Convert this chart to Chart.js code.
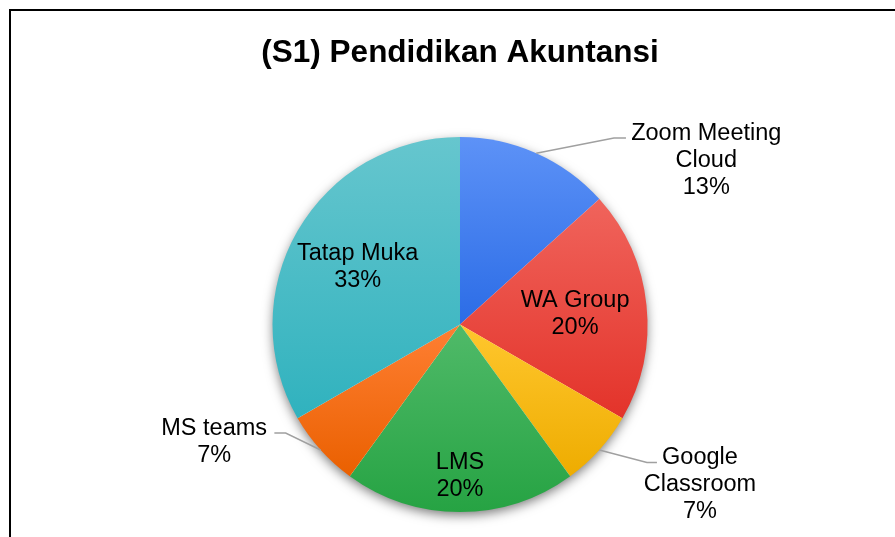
<!DOCTYPE html>
<html>
<head>
<meta charset="utf-8">
<script src="https://cdn.jsdelivr.net/npm/chart.js@4.4.0/dist/chart.umd.min.js"></script>
<style>
  html, body { margin: 0; padding: 0; background: #fff; overflow: hidden; }
  #wrap { position: relative; width: 895px; height: 537px; overflow: hidden; }
  #frame { position: absolute; left: 9px; top: 9px; width: 1000px; height: 1000px; border: 2.5px solid #000; }
  canvas { position: absolute; left: 0; top: 0; }
</style>
</head>
<body>
<div id="wrap">
  <div id="frame"></div>
  <canvas id="chart" width="895" height="537"></canvas>
</div>
<script>
const chartTitle = "(S1) Pendidikan Akuntansi";
const categories = ["Zoom Meeting Cloud", "WA Group", "Google Classroom", "LMS", "MS teams", "Tatap Muka"];
const labelLines = [["Zoom Meeting", "Cloud"], ["WA Group"], ["Google", "Classroom"], ["LMS"], ["MS teams"], ["Tatap Muka"]];
const counts = [2, 3, 1, 3, 1, 5];

const topColors = ["#5d92f7", "#f0645c", "#ffc72e", "#50ba69", "#ff7f33", "#66c6ce"];
const bottomColors = ["#2b6ce6", "#e3332a", "#eeac00", "#26a343", "#ea6000", "#30b2be"];

// where each data label goes: inside at a fraction of the radius, or outside with a leader line
const labelPlace = [
  { inside: false, dx: 170, dy: 5, kx: 77.7, ky: -15.2, tail: 12 },
  { inside: true, r: 0.617 },
  { inside: false, dx: 100.6, dy: 32.7, kx: 47.6, ky: 12.6, tail: 10 },
  { inside: true, r: 0.80 },
  { inside: false, dx: -106.5, dy: -9.7, kx: -35, ky: -17, tail: -11.3 },
  { inside: true, r: 0.63 }
];

const FONT = '"Liberation Sans", Arial, sans-serif';
const LABEL_SIZE = 23.5;
const LINE_H = 27;

const total = counts.reduce((a, b) => a + b, 0);

const pieDecor = {
  id: "pieDecor",
  beforeDatasetsDraw(chart) {
    const ctx = chart.ctx;
    const arcs = chart.getDatasetMeta(0).data;
    arcs.forEach((arc, i) => {
      const { y, startAngle, endAngle, outerRadius } = arc;
      let top = y, bot = y;
      for (let k = 0; k <= 60; k++) {
        const a = startAngle + (endAngle - startAngle) * k / 60;
        const py = y + Math.sin(a) * outerRadius;
        top = Math.min(top, py);
        bot = Math.max(bot, py);
      }
      const g = ctx.createLinearGradient(0, top, 0, bot);
      g.addColorStop(0, topColors[i]);
      g.addColorStop(1, bottomColors[i]);
      arc.options.backgroundColor = g;
    });
    // soft shadow under the pie
    const a0 = arcs[0];
    ctx.save();
    ctx.shadowColor = "rgba(0,0,0,0.55)";
    ctx.shadowBlur = 12;
    ctx.shadowOffsetY = 4;
    ctx.fillStyle = "#fff";
    ctx.beginPath();
    ctx.arc(a0.x, a0.y, a0.outerRadius - 1, 0, Math.PI * 2);
    ctx.fill();
    ctx.restore();
  },
  afterDatasetsDraw(chart) {
    const ctx = chart.ctx;
    const arcs = chart.getDatasetMeta(0).data;
    ctx.save();
    ctx.font = LABEL_SIZE + "px " + FONT;
    ctx.textAlign = "center";
    ctx.textBaseline = "alphabetic";
    arcs.forEach((arc, i) => {
      const p = labelPlace[i];
      const mid = (arc.startAngle + arc.endAngle) / 2;
      const lines = labelLines[i].concat([Math.round(counts[i] / total * 100) + "%"]);
      let cx, cy;
      if (p.inside) {
        cx = arc.x + Math.cos(mid) * arc.outerRadius * p.r;
        cy = arc.y + Math.sin(mid) * arc.outerRadius * p.r;
      } else {
        const ex = arc.x + Math.cos(mid) * arc.outerRadius;
        const ey = arc.y + Math.sin(mid) * arc.outerRadius;
        cx = ex + p.dx;
        cy = ey + p.dy;
        ctx.strokeStyle = "#a0a0a0";
        ctx.lineWidth = 1.5;
        ctx.beginPath();
        ctx.moveTo(ex, ey);
        ctx.lineTo(ex + p.kx, ey + p.ky);
        ctx.lineTo(ex + p.kx + p.tail, ey + p.ky);
        ctx.stroke();
      }
      ctx.fillStyle = "#000";
      const n = lines.length;
      const cap = LABEL_SIZE * 0.716;
      lines.forEach((t, j) => {
        ctx.fillText(t, cx, cy + (j - (n - 1) / 2) * LINE_H + cap / 2);
      });
    });
    ctx.restore();
  }
};

new Chart(document.getElementById("chart"), {
  type: "pie",
  data: {
    labels: categories,
    datasets: [{
      data: counts,
      backgroundColor: c => bottomColors[c.dataIndex],
      borderWidth: 0
    }]
  },
  options: {
    responsive: false,
    animation: false,
    layout: { padding: { left: 202, right: 177, top: 0, bottom: 25 } },
    plugins: {
      legend: { display: false },
      tooltip: { enabled: false },
      title: {
        display: true,
        text: chartTitle,
        color: "#000",
        font: { family: FONT, size: 31.5, weight: "bold", lineHeight: 1.2 },
        padding: { top: 34, bottom: 65.2 }
      }
    }
  },
  plugins: [pieDecor]
});
</script>
</body>
</html>
